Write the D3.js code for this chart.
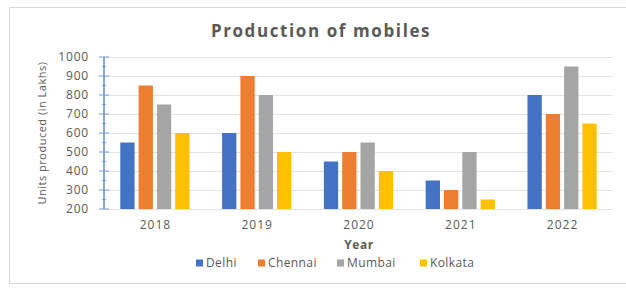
<!DOCTYPE html>
<html>
<head>
<meta charset="utf-8">
<script src="https://cdn.jsdelivr.net/npm/d3@7"></script>
<style>
  body { margin: 0; background: #fff; }
</style>
</head>
<body>
<div id="chart"></div>
<script>
const years = ["2018", "2019", "2020", "2021", "2022"];
const cities = ["Delhi", "Chennai", "Mumbai", "Kolkata"];
const colors = ["#4472C4", "#ED7D31", "#A5A5A5", "#FFC000"];
const delhi = [550, 600, 450, 350, 800];
const chennai = [850, 900, 500, 300, 700];
const mumbai = [750, 800, 550, 500, 950];
const kolkata = [600, 500, 400, 250, 650];
const yTicks = [200, 300, 400, 500, 600, 700, 800, 900, 1000];

const seriesValues = [delhi, chennai, mumbai, kolkata];

const width = 626;
const height = 288;
const font = "'Open Sans', sans-serif";
const textGrey = "#595959";

const svg = d3.select("#chart").append("svg")
  .attr("width", width)
  .attr("height", height)
  .style("font-family", font);

// chart area frame
svg.append("rect")
  .attr("x", 9.5).attr("y", 7.5)
  .attr("width", 640).attr("height", 276)
  .attr("fill", "#fff")
  .attr("stroke", "#d9d9d9");

const plot = { left: 104, right: 613, top: 57, bottom: 209 };

const x0 = d3.scaleBand()
  .domain(years)
  .range([plot.left, plot.right])
  .paddingInner(0.32)
  .paddingOuter(0.16);

const x1 = d3.scaleBand()
  .domain(cities)
  .range([0, x0.bandwidth()])
  .paddingInner(0.22);

const y = d3.scaleLinear()
  .domain([200, 1000])
  .range([plot.bottom, plot.top]);

// gridlines
svg.append("g")
  .selectAll("line")
  .data(yTicks)
  .join("line")
    .attr("x1", plot.left)
    .attr("x2", plot.right)
    .attr("y1", d => Math.round(y(d)) + 0.5)
    .attr("y2", d => Math.round(y(d)) + 0.5)
    .attr("stroke", "#e3e3e3")
    .attr("stroke-width", 1);

// bars
const groups = svg.append("g")
  .selectAll("g")
  .data(years)
  .join("g")
    .attr("transform", d => `translate(${x0(d)},0)`);

groups.selectAll("rect")
  .data((d, i) => cities.map((c, j) => ({ city: c, value: seriesValues[j][i], color: colors[j] })))
  .join("rect")
    .attr("x", d => x1(d.city))
    .attr("y", d => y(d.value))
    .attr("width", x1.bandwidth())
    .attr("height", d => y(200) - y(d.value))
    .attr("fill", d => d.color);

// y axis (blue line with ticks)
const axisG = svg.append("g")
  .attr("transform", `translate(${plot.left},0)`);

axisG.append("line")
  .attr("x1", 0).attr("x2", 0)
  .attr("y1", plot.top).attr("y2", plot.bottom)
  .attr("stroke", "#5a88d4")
  .attr("stroke-width", 1.5);

axisG.selectAll("line.major")
  .data(yTicks)
  .join("line")
    .attr("class", "major")
    .attr("x1", -5).attr("x2", 5)
    .attr("y1", d => y(d)).attr("y2", d => y(d))
    .attr("stroke", "#7a9cd8")
    .attr("stroke-width", 1);

axisG.selectAll("line.minor")
  .data(d3.range(250, 1000, 100))
  .join("line")
    .attr("class", "minor")
    .attr("x1", -2).attr("x2", 2)
    .attr("y1", d => y(d)).attr("y2", d => y(d))
    .attr("stroke", "#7a9cd8")
    .attr("stroke-width", 1);

// y tick labels
svg.append("g")
  .selectAll("text")
  .data(yTicks)
  .join("text")
    .attr("x", 89)
    .attr("y", d => y(d))
    .attr("dy", "0.35em")
    .attr("text-anchor", "end")
    .style("font-size", "12px")
    .style("letter-spacing", "0.8px")
    .style("fill", textGrey)
    .text(d => d);

// x tick labels
svg.append("g")
  .selectAll("text")
  .data(years)
  .join("text")
    .attr("x", d => x0(d) + x0.bandwidth() / 2 + 0.5)
    .attr("y", 229)
    .attr("text-anchor", "middle")
    .style("font-size", "12px")
    .style("letter-spacing", "1px")
    .style("fill", textGrey)
    .text(d => d);

// title
svg.append("text")
  .attr("x", 321)
  .attr("y", 37)
  .attr("text-anchor", "middle")
  .style("font-size", "17px")
  .style("font-weight", "700")
  .style("letter-spacing", "1.6px")
  .style("fill", textGrey)
  .text("Production of mobiles");

// axis titles
svg.append("text")
  .attr("x", 359)
  .attr("y", 249)
  .attr("text-anchor", "middle")
  .style("font-size", "12px")
  .style("font-weight", "700")
  .style("letter-spacing", "0.6px")
  .style("fill", textGrey)
  .text("Year");

svg.append("text")
  .attr("transform", `translate(46,${(plot.top + plot.bottom) / 2}) rotate(-90)`)
  .attr("text-anchor", "middle")
  .style("font-size", "11px")
  .style("letter-spacing", "0.5px")
  .style("fill", textGrey)
  .text("Units produced (in Lakhs)");

// legend
const legendX = [196, 258, 337, 420];
const legend = svg.append("g")
  .selectAll("g")
  .data(cities)
  .join("g")
    .attr("transform", (d, i) => `translate(${legendX[i]},263)`);

legend.append("rect")
  .attr("x", 0).attr("y", -3.5)
  .attr("width", 7).attr("height", 7)
  .attr("fill", (d, i) => colors[i]);

legend.append("text")
  .attr("x", 10)
  .attr("y", 0)
  .attr("dy", "0.35em")
  .style("font-size", "12px")
  .style("letter-spacing", "0.4px")
  .style("fill", textGrey)
  .text(d => d);
</script>
</body>
</html>
